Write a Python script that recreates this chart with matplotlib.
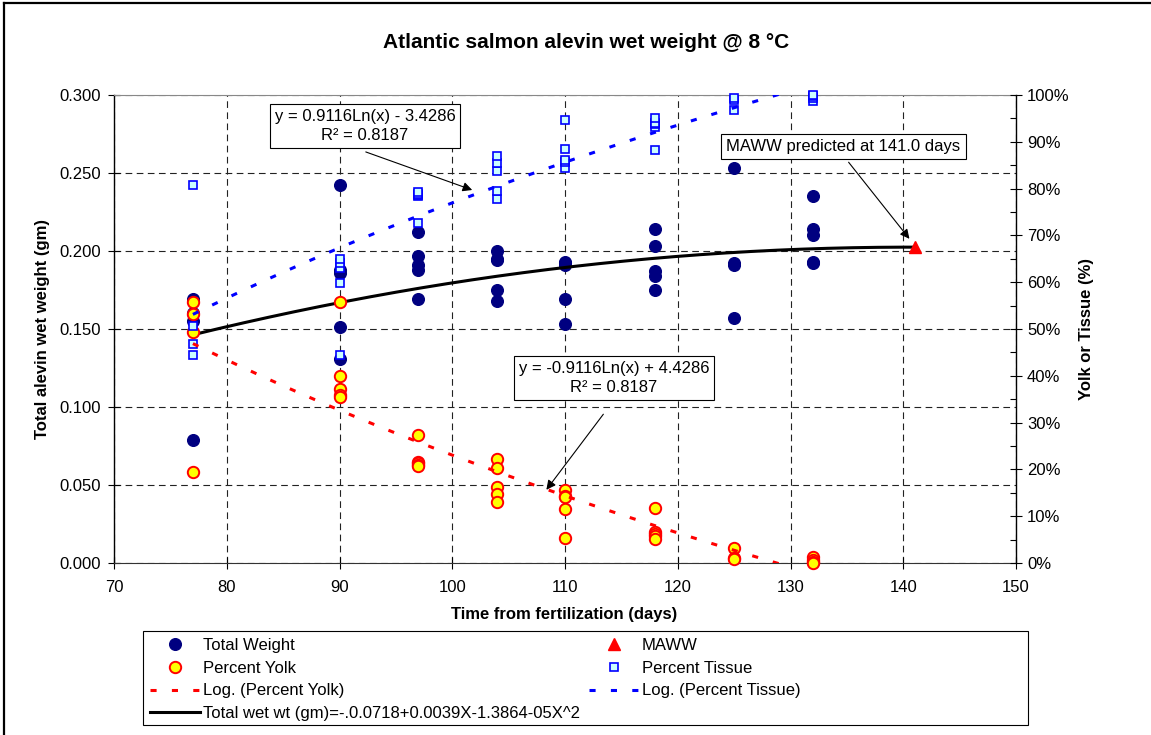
import numpy as np
import matplotlib.pyplot as plt
from matplotlib.ticker import FormatStrFormatter, PercentFormatter, MultipleLocator
from matplotlib.patches import Rectangle
from matplotlib.lines import Line2D

plt.rcParams['font.family'] = ['Liberation Sans', 'DejaVu Sans']

# total wet weight per fish (gm)
weight_days = [77, 77, 77, 77,
               90, 90, 90, 90, 90,
               97, 97, 97, 97, 97,
               104, 104, 104, 104, 104,
               110, 110, 110, 110, 110,
               118, 118, 118, 118, 118,
               125, 125, 125, 125,
               132, 132, 132, 132, 132]
total_weight = [0.169, 0.160, 0.155, 0.079,
                0.242, 0.188, 0.186, 0.151, 0.131,
                0.212, 0.197, 0.191, 0.188, 0.169,
                0.200, 0.195, 0.194, 0.175, 0.168,
                0.193, 0.192, 0.191, 0.169, 0.153,
                0.214, 0.203, 0.187, 0.184, 0.175,
                0.253, 0.192, 0.191, 0.157,
                0.235, 0.214, 0.210, 0.193, 0.192]

# yolk / tissue fractions
pct_days = [77, 77, 77, 77,
            90, 90, 90, 90, 90,
            97, 97, 97, 97, 97,
            104, 104, 104, 104, 104,
            110, 110, 110, 110, 110,
            118, 118, 118, 118, 118,
            125, 125, 125,
            132, 132, 132, 132]
pct_yolk = [0.558, 0.532, 0.494, 0.194,
            0.558, 0.400, 0.372, 0.360, 0.354,
            0.274, 0.215, 0.213, 0.209, 0.207,
            0.222, 0.204, 0.163, 0.147, 0.131,
            0.156, 0.144, 0.140, 0.115, 0.054,
            0.118, 0.067, 0.062, 0.058, 0.051,
            0.033, 0.010, 0.008,
            0.013, 0.007, 0.003, 0.000]
pct_tissue = [0.444, 0.468, 0.506, 0.808,
              0.444, 0.599, 0.630, 0.642, 0.650,
              0.726, 0.785, 0.787, 0.788, 0.792,
              0.777, 0.795, 0.838, 0.854, 0.870,
              0.843, 0.856, 0.861, 0.885, 0.947,
              0.882, 0.932, 0.938, 0.940, 0.950,
              0.968, 0.990, 0.993,
              0.987, 0.993, 0.997, 1.000]

maww_day = [141.0]
maww_weight = [0.2028]

# fitted curves (coefficients as printed on the chart)
yolk_fit = (-0.9116, 4.4286)
tissue_fit = (0.9116, -3.4286)
weight_fit = (-0.0718, 0.0039, -1.3864e-05)

FS = 12

fig = plt.figure(figsize=(11.51, 7.35), dpi=100)
ax = fig.add_axes([114 / 1151, 1 - 563 / 735, 902 / 1151, 468 / 735])
ax2 = ax.twinx()

dash = (0, (6, 4))
ax.grid(True, color='#222222', linestyle=dash, linewidth=0.8)
ax.set_axisbelow(True)

ax.plot(weight_days, total_weight, 'o', color='#000080', ms=8.4,
        label='Total Weight', clip_on=False, zorder=3)
fx = np.linspace(77, 141, 200)
fy = weight_fit[0] + weight_fit[1] * fx + weight_fit[2] * fx ** 2
ax.plot(fx, fy, color='black', lw=2.2,
        label='Total wet wt (gm)=-.0.0718+0.0039X-1.3864-05X^2', zorder=4)
ax.plot(maww_day, maww_weight, '^', color='#FF0000', ms=9,
        label='MAWW', clip_on=False, zorder=5)

ax2.plot(pct_days, pct_yolk, 'o', mfc='#FFFF00', mec='#FF0000', mew=1.4, ms=8.2,
         label='Percent Yolk', clip_on=False, zorder=3)
ax2.plot(pct_days, pct_tissue, 's', mfc='#CCFFFF', mec='#0000FF', mew=1.2, ms=6,
         label='Percent Tissue', clip_on=False, zorder=3)
tx = np.linspace(77, 132, 200)
ax2.plot(tx, yolk_fit[0] * np.log(tx) + yolk_fit[1], color='#FF0000', lw=2.2,
         linestyle=(0, (2, 5)), label='Log. (Percent Yolk)', zorder=4)
ax2.plot(tx, tissue_fit[0] * np.log(tx) + tissue_fit[1], color='#0000FF', lw=2.2,
         linestyle=(0, (2, 5)), label='Log. (Percent Tissue)', zorder=4)

ax.set_xlim(70, 150)
ax.set_ylim(0, 0.3)
ax2.set_ylim(0, 1)
ax.set_xticks(range(70, 151, 10))
ax.set_yticks(np.arange(0, 0.301, 0.05))
ax.yaxis.set_major_formatter(FormatStrFormatter('%.3f'))
ax2.set_yticks(np.arange(0, 1.01, 0.1))
ax2.yaxis.set_major_formatter(PercentFormatter(1.0, decimals=0))
ax2.yaxis.set_minor_locator(MultipleLocator(0.05))

ax.tick_params(axis='x', direction='inout', length=8, width=0.8,
               labelsize=FS, pad=8)
ax.tick_params(axis='y', direction='inout', length=8, width=0.8,
               labelsize=FS, pad=5.5)
ax2.tick_params(axis='y', which='major', direction='inout', length=8, width=0.8,
                labelsize=FS, pad=4)
ax2.tick_params(axis='y', which='minor', direction='in', length=4, width=0.8)

for s in ['left', 'top', 'bottom']:
    ax2.spines[s].set_visible(False)
ax.spines['right'].set_visible(False)
ax.spines['top'].set_color('#888888')
ax.spines['bottom'].set_color('#333333')
ax.spines['left'].set_linewidth(1.0)
ax2.spines['right'].set_linewidth(1.0)

ax.set_xlabel('Time from fertilization (days)', fontsize=FS, fontweight='bold')
ax.xaxis.set_label_coords(0.499, -0.094)
ax.set_ylabel('Total alevin wet weight (gm)', fontsize=FS, fontweight='bold')
ax.yaxis.set_label_coords(-0.071, 0.5)
ax2.set_ylabel('Yolk or Tissue (%)', fontsize=FS, fontweight='bold')
ax2.yaxis.set_label_coords(1.070, 0.5)

fig.text(586 / 1151, 1 - 42 / 735, 'Atlantic salmon alevin wet weight @ 8 °C',
         ha='center', va='center', fontsize=15, fontweight='bold')

# equation boxes and arrows
box = dict(boxstyle='square,pad=0.3', fc='white', ec='black', lw=0.8)
arrow = dict(arrowstyle='-|>', color='black', lw=0.8, mutation_scale=14)

ax.text(92.26, 0.2801, 'y = 0.9116Ln(x) - 3.4286\nR² = 0.8187', ha='center',
        va='center', fontsize=FS, bbox=box, linespacing=1.3, zorder=10)
ax.annotate('', xy=(102.0, 0.2385), xytext=(92.1, 0.2641), arrowprops=arrow, zorder=10)

ax.text(114.35, 0.1186, 'y = -0.9116Ln(x) + 4.4286\nR² = 0.8187', ha='center',
        va='center', fontsize=FS, bbox=box, linespacing=1.3, zorder=10)
ax.annotate('', xy=(108.2, 0.0455), xytext=(113.55, 0.0968), arrowprops=arrow, zorder=10)

ax.text(134.7, 0.2673, 'MAWW predicted at 141.0 days', ha='center', va='center',
        fontsize=FS, bbox=box, zorder=10)
ax.annotate('', xy=(140.7, 0.2064), xytext=(135.0, 0.2583), arrowprops=arrow, zorder=10)

# legend, two columns in a wide frame
h1, l1 = ax.get_legend_handles_labels()
h2, l2 = ax2.get_legend_handles_labels()
hd = dict(zip(l1 + l2, h1 + h2))
order = ['Total Weight', 'Percent Yolk', 'Log. (Percent Yolk)',
         'Total wet wt (gm)=-.0.0718+0.0039X-1.3864-05X^2',
         'MAWW', 'Percent Tissue', 'Log. (Percent Tissue)']
fig.legend([hd[k] for k in order], order, ncol=2, loc='upper left',
           bbox_to_anchor=(143 / 1151, 1 - 631 / 735), frameon=False,
           fontsize=FS, numpoints=1, handlelength=3.0, handletextpad=0.2,
           columnspacing=0.5, borderpad=0.42, labelspacing=0.46, borderaxespad=0)
fig.add_artist(Rectangle((143 / 1151, 1 - 725 / 735), 885 / 1151, 94 / 735,
                         transform=fig.transFigure, fill=False, ec='black', lw=0.8))

# outer chart border
fig.add_artist(Line2D([4 / 1151, 4 / 1151], [0, 1 - 3 / 735], color='black', lw=1.6))
fig.add_artist(Line2D([4 / 1151, 1], [1 - 3 / 735, 1 - 3 / 735], color='black', lw=1.6))

fig.savefig('out.png', dpi=100)
